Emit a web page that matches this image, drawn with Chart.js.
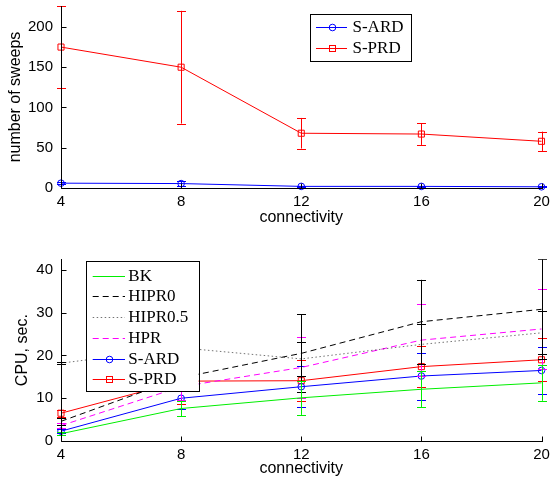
<!DOCTYPE html>
<html>
<head>
<meta charset="utf-8">
<script src="https://cdn.jsdelivr.net/npm/chart.js@4/dist/chart.umd.min.js"></script>
<style>
  html, body { margin: 0; padding: 0; background: #fff; }
  #wrap { position: relative; width: 552px; height: 481px; overflow: hidden; background: #fff; }
  canvas { position: absolute; left: 0; }
  #sweeps { top: 0; }
  #cpu { top: 240px; }
</style>
</head>
<body>
<div id="wrap">
  <canvas id="sweeps" width="552" height="232"></canvas>
  <canvas id="cpu" width="552" height="241"></canvas>
</div>
<script>
// ---- data ----
const connectivity = [4, 8, 12, 16, 20];

// number of sweeps (mean and error half-width)
const sweepsARD    = [6, 5.5, 2, 2, 1.5];
const sweepsARDErr = [1, 3, 0.6, 0.6, 0.4];
const sweepsPRD    = [175, 150, 68, 67, 58];
const sweepsPRDErr = [51, 70, 19, 13.5, 12];
const sweepTicks   = [0, 50, 100, 150, 200];
const sweepMax     = 226;

// CPU time, seconds (mean and error half-width)
const cpuBK        = [1.7, 7.6, 10.1, 12.1, 13.6];
const cpuBKErr     = [0.4, 1.8, 4.0, 4.2, 4.2];
const cpuHIPR0     = [4.6, 14.8, 20.5, 27.9, 30.8];
const cpuHIPR0Err  = [0.8, 3.0, 9.1, 9.8, 11.7];
const cpuHIPR05    = [18.2, 21.8, 19.2, 22.6, 25.3];
const cpuHIPR05Err = [0.3, 3.0, 4.0, 4.7, 5.0];
const cpuHPR       = [3.6, 12.7, 17.2, 23.6, 26.2];
const cpuHPRErr    = [0.6, 3.0, 7.2, 8.4, 9.4];
const cpuSARD      = [2.3, 10.0, 12.7, 15.2, 16.5];
const cpuSARDErr   = [0.5, 2.5, 4.8, 5.5, 5.6];
const cpuSPRD      = [6.5, 14.0, 14.1, 17.4, 19.0];
const cpuSPRDErr   = [0.8, 5.3, 4.8, 4.8, 5.0];
const cpuTicks     = [0, 10, 20, 30, 40];
const cpuMax       = 42.5;

const connTicks = [4, 8, 12, 16, 20];

// ---- helpers ----
const pts = vals => connectivity.map((x, i) => ({ x: x, y: vals[i] }));

function series(label, vals, errs, color, opts) {
  opts = opts || {};
  return {
    label: label,
    data: pts(vals),
    errors: errs,
    barColor: opts.barColor || color,
    borderColor: color,
    backgroundColor: 'transparent',
    borderWidth: 1,
    borderDash: opts.dash || [],
    pointStyle: opts.marker || false,
    pointRadius: opts.marker ? (opts.marker === 'rect' ? 4.3 : 3.3) : 0,
    pointBorderColor: color,
    pointBackgroundColor: 'transparent',
    pointBorderWidth: 1,
    tension: 0,
    fill: false,
    clip: false
  };
}

// vertical error bars with caps, drawn right after each series
const errorBars = {
  id: 'errorBars',
  afterDatasetDraw(chart, args) {
    const ds = chart.data.datasets[args.index];
    if (!ds.errors) return;
    const ctx = chart.ctx, ys = chart.scales.y, area = chart.chartArea;
    ctx.save();
    ctx.beginPath();
    ctx.rect(area.left - 6, area.top, area.right - area.left + 12, area.bottom - area.top + 1);
    ctx.clip();
    ctx.strokeStyle = ds.barColor;
    ctx.lineWidth = 1;
    ctx.setLineDash([]);
    args.meta.data.forEach((pt, i) => {
      const v = ds.data[i].y, e = ds.errors[i];
      const x = Math.round(pt.x) + 0.5;
      const t = ys.getPixelForValue(v + e), b = ys.getPixelForValue(v - e);
      ctx.beginPath();
      ctx.moveTo(x, t); ctx.lineTo(x, b);
      ctx.moveTo(x - 4.5, Math.round(t) + 0.5); ctx.lineTo(x + 4.5, Math.round(t) + 0.5);
      ctx.moveTo(x - 4.5, Math.round(b) + 0.5); ctx.lineTo(x + 4.5, Math.round(b) + 0.5);
      ctx.stroke();
    });
    ctx.restore();
  }
};

// left/bottom axis lines with inward ticks, plus axis titles
const axesFrame = {
  id: 'axesFrame',
  afterDatasetsDraw(chart, args, o) {
    const ctx = chart.ctx, a = chart.chartArea;
    const xs = chart.scales.x, ys = chart.scales.y;
    const L = Math.round(a.left) + 0.5, B = Math.round(a.bottom) + 0.5;
    ctx.save();
    ctx.strokeStyle = '#000';
    ctx.lineWidth = 1;
    ctx.beginPath();
    ctx.moveTo(L, Math.round(a.top)); ctx.lineTo(L, B);
    ctx.lineTo(Math.round(a.right) + 1, B);
    xs.ticks.forEach(t => {
      const x = Math.round(xs.getPixelForValue(t.value)) + 0.5;
      ctx.moveTo(x, B); ctx.lineTo(x, B - 5);
    });
    ys.ticks.forEach(t => {
      const y = Math.round(ys.getPixelForValue(t.value)) + 0.5;
      ctx.moveTo(L, y); ctx.lineTo(L + 5, y);
    });
    ctx.stroke();

    ctx.fillStyle = '#000';
    ctx.font = '16px "Liberation Sans", Arial, sans-serif';
    ctx.textAlign = 'center';
    ctx.textBaseline = 'alphabetic';
    ctx.fillText(o.xTitle, (a.left + a.right) / 2, o.xTitleBaseline);
    ctx.translate(o.yTitleX, (a.top + a.bottom) / 2);
    ctx.rotate(-Math.PI / 2);
    ctx.textBaseline = 'middle';
    ctx.fillText(o.yTitle, 0, 0);
    ctx.restore();
  }
};

// boxed legend with line samples and markers
const boxLegend = {
  id: 'boxLegend',
  afterDraw(chart, args, o) {
    const ctx = chart.ctx;
    ctx.save();
    ctx.fillStyle = '#fff';
    ctx.fillRect(o.left, o.top, o.right - o.left, o.bottom - o.top);
    ctx.strokeStyle = '#000';
    ctx.lineWidth = 1;
    ctx.setLineDash([]);
    ctx.strokeRect(Math.round(o.left) + 0.5, Math.round(o.top) + 0.5,
                   Math.round(o.right - o.left), Math.round(o.bottom - o.top));
    chart.data.datasets.forEach((ds, i) => {
      const y = Math.round(o.firstRow + i * o.rowGap) + 0.5;
      ctx.strokeStyle = ds.borderColor;
      ctx.lineWidth = 1;
      ctx.setLineDash(ds.borderDash || []);
      ctx.beginPath();
      ctx.moveTo(o.lineFrom, y); ctx.lineTo(o.lineTo, y);
      ctx.stroke();
      ctx.setLineDash([]);
      const cx = Math.round((o.lineFrom + o.lineTo) / 2) + 0.5;
      if (ds.pointStyle === 'circle') {
        ctx.beginPath(); ctx.arc(cx, y, 3.3, 0, Math.PI * 2); ctx.stroke();
      } else if (ds.pointStyle === 'rect') {
        ctx.strokeRect(cx - 3, y - 3, 6, 6);
      }
      ctx.fillStyle = '#000';
      ctx.font = '17px "Liberation Serif", "Times New Roman", serif';
      ctx.textAlign = 'left';
      ctx.textBaseline = 'middle';
      ctx.fillText(ds.label, o.textX, y + 0.5);
    });
    ctx.restore();
  }
};

function makeScales(yMax, yTicks, xHeight) {
  const tickFont = { family: '"Liberation Sans", Arial, sans-serif', size: 15 };
  return {
    x: {
      type: 'linear', min: 4, max: 20,
      grid: { display: false, drawTicks: false },
      border: { display: false },
      afterBuildTicks: s => { s.ticks = connTicks.map(v => ({ value: v })); },
      afterFit: s => { s.height = xHeight; s.paddingLeft = 0; s.paddingRight = 0; },
      ticks: { font: tickFont, color: '#000', padding: 5, maxRotation: 0, autoSkip: false }
    },
    y: {
      type: 'linear', min: 0, max: yMax,
      grid: { display: false, drawTicks: false },
      border: { display: false },
      afterBuildTicks: s => { s.ticks = yTicks.map(v => ({ value: v })); },
      afterFit: s => { s.width = 61; s.paddingTop = 0; s.paddingBottom = 0; },
      ticks: { font: tickFont, color: '#000', padding: 8 }
    }
  };
}

const common = {
  responsive: false,
  animation: false,
  devicePixelRatio: 1,
  events: []
};

new Chart(document.getElementById('sweeps'), {
  type: 'line',
  data: {
    datasets: [
      series('S-ARD', sweepsARD, sweepsARDErr, '#0000ff', { marker: 'circle' }),
      series('S-PRD', sweepsPRD, sweepsPRDErr, '#ff0000', { marker: 'rect' })
    ]
  },
  options: Object.assign({}, common, {
    layout: { padding: { top: 6, right: 10.5, left: 0, bottom: 0 } },
    scales: makeScales(sweepMax, sweepTicks, 44),
    plugins: {
      legend: { display: false },
      tooltip: { enabled: false },
      axesFrame: { xTitle: 'connectivity', xTitleBaseline: 222, yTitle: 'number of sweeps', yTitleX: 16 },
      boxLegend: { left: 310, top: 14, right: 411, bottom: 61, firstRow: 27.3, rowGap: 20.4,
                   lineFrom: 316, lineTo: 347, textX: 352.5 }
    }
  }),
  plugins: [errorBars, axesFrame, boxLegend]
});

new Chart(document.getElementById('cpu'), {
  type: 'line',
  data: {
    datasets: [
      series('BK', cpuBK, cpuBKErr, '#00ee00'),
      series('HIPR0', cpuHIPR0, cpuHIPR0Err, '#000000', { dash: [6, 4] }),
      series('HIPR0.5', cpuHIPR05, cpuHIPR05Err, 'rgba(0,0,0,0.55)', { dash: [1.5, 2.5], barColor: '#000000' }),
      series('HPR', cpuHPR, cpuHPRErr, '#ff00ff', { dash: [6, 4] }),
      series('S-ARD', cpuSARD, cpuSARDErr, '#0000ff', { marker: 'circle' }),
      series('S-PRD', cpuSPRD, cpuSPRDErr, '#ff0000', { marker: 'rect' })
    ]
  },
  options: Object.assign({}, common, {
    layout: { padding: { top: 19.3, right: 10.5, left: 0, bottom: 0 } },
    scales: makeScales(cpuMax, cpuTicks, 40),
    plugins: {
      legend: { display: false },
      tooltip: { enabled: false },
      axesFrame: { xTitle: 'connectivity', xTitleBaseline: 233, yTitle: 'CPU, sec.', yTitleX: 23 },
      boxLegend: { left: 86, top: 21, right: 198.5, bottom: 151, firstRow: 35.7, rowGap: 20.7,
                   lineFrom: 92.7, lineTo: 125, textX: 128.3 }
    }
  }),
  plugins: [errorBars, axesFrame, boxLegend]
});
</script>
</body>
</html>
